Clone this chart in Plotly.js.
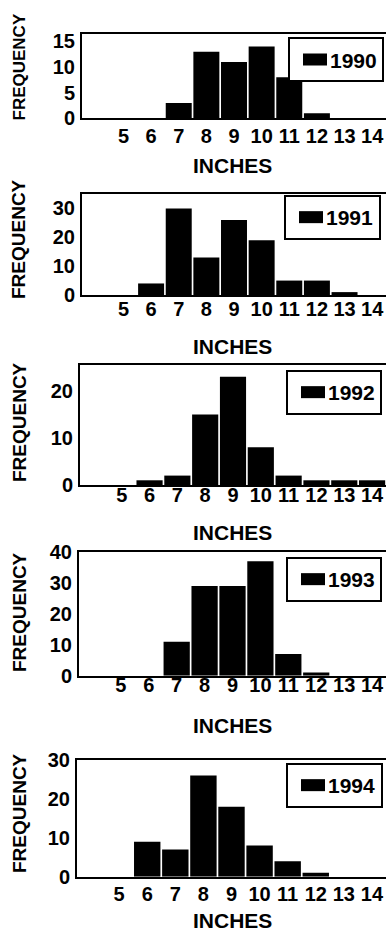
<!DOCTYPE html>
<html><head><meta charset="utf-8">
<script src="https://cdn.plot.ly/plotly-3.0.1.min.js"></script>
<style>html,body{margin:0;padding:0;background:#fff}</style>
</head><body><div id="chart" style="width:386px;height:934px"></div>
<script>
// ---- data ----
const inches = [5, 6, 7, 8, 9, 10, 11, 12, 13, 14];
const years = ['1990', '1991', '1992', '1993', '1994'];
const freq1990 = [0, 0, 3, 13, 11, 14, 8, 1, 0, 0];
const freq1991 = [0, 4, 30, 13, 26, 19, 5, 5, 1, 0];
const freq1992 = [0, 1, 2, 15, 23, 8, 2, 1, 1, 1];
const freq1993 = [0, 0, 11, 29, 29, 37, 7, 1, 0, 0];
const freq1994 = [0, 9, 7, 26, 18, 8, 4, 1, 0, 0];
const xTitle = 'INCHES';
const yTitle = 'FREQUENCY';

const series = [freq1990, freq1991, freq1992, freq1993, freq1994];
const yMax = [16.4, 35, 25.5, 40, 30];
const yStep = [5, 10, 10, 10, 10];

// ---- layout geometry (pixels) ----
const W = 386, H = 934;
const panels = [
  {top: 34.3, bottom: 118.3, left: 82, tickOff: -1,  inchesY: 165,   freqY: 67.5, freqSize: 17, legTop: 37.3, legRight: 384},
  {top: 194,  bottom: 295,   left: 82, tickOff: -5,  inchesY: 346.7, freqY: 239,  freqSize: 19, legTop: 195,  legRight: 381},
  {top: 365,  bottom: 485,   left: 80, tickOff: -9,  inchesY: 532.5, freqY: 422,  freqSize: 19, legTop: 370,  legRight: 382},
  {top: 552,  bottom: 675.7, left: 79, tickOff: -10, inchesY: 725,   freqY: 612,  freqSize: 19, legTop: 557,  legRight: 382},
  {top: 760,  bottom: 876.7, left: 77, tickOff: -2,  inchesY: 920,   freqY: 813,  freqSize: 19, legTop: 763,  legRight: 383}
];
const FAM = '"Liberation Sans", Arial, Helvetica, sans-serif';
const bold = (size) => ({family: FAM, size: size, color: '#000', weight: 'bold'});

const traces = [];
const layout = {
  width: W, height: H,
  margin: {l: 0, r: 0, t: 0, b: 0},
  paper_bgcolor: '#fff', plot_bgcolor: '#fff',
  bargap: 0.06,
  annotations: [],
  font: bold(18)
};

panels.forEach((p, i) => {
  const n = i + 1;
  const xa = n === 1 ? 'x' : 'x' + n;
  const ya = n === 1 ? 'y' : 'y' + n;
  const lg = n === 1 ? 'legend' : 'legend' + n;
  traces.push({
    type: 'bar', x: inches, y: series[i], name: years[i],
    xaxis: xa, yaxis: ya, legend: lg, showlegend: true,
    marker: {color: '#000', line: {width: 0}}
  });
  const xKey = n === 1 ? 'xaxis' : 'xaxis' + n;
  const yKey = n === 1 ? 'yaxis' : 'yaxis' + n;
  layout[xKey] = {
    domain: [p.left / W, 1], range: [3.5, 14.5], anchor: ya,
    tickmode: 'array', tickvals: inches, ticktext: inches.map(String),
    ticks: '', showgrid: false, zeroline: false,
    showline: true, mirror: true, linecolor: '#000', linewidth: 2,
    tickfont: bold(20), ticklabelstandoff: p.tickOff, fixedrange: true
  };
  layout[yKey] = {
    domain: [1 - p.bottom / H, 1 - p.top / H], range: [0, yMax[i]], anchor: xa,
    dtick: yStep[i], tick0: 0, ticks: '', showgrid: false, zeroline: false,
    showline: true, mirror: false, linecolor: '#000', linewidth: 2,
    tickfont: bold(20), ticklabelstandoff: 1, fixedrange: true
  };
  layout[lg] = {
    x: p.legRight / W, xanchor: 'right', y: 1 - p.legTop / H, yanchor: 'top',
    bgcolor: '#fff', bordercolor: '#000', borderwidth: 2,
    font: bold(21), itemclick: false, itemdoubleclick: false,
    tracegroupgap: 0
  };
  layout.annotations.push({
    text: xTitle, xref: 'paper', yref: 'paper', x: 232 / W, y: 1 - p.inchesY / H,
    xanchor: 'center', yanchor: 'middle', showarrow: false, font: bold(21)
  });
  layout.annotations.push({
    text: yTitle, xref: 'paper', yref: 'paper', x: 19 / W, y: 1 - p.freqY / H,
    xanchor: 'center', yanchor: 'middle', textangle: -90, showarrow: false, font: bold(p.freqSize)
  });
});

Plotly.newPlot('chart', traces, layout, {displayModeBar: false, staticPlot: true}).then(() => {
  document.querySelectorAll('.legendpoints path').forEach(el => el.setAttribute('d', 'M17,6H-7V-6H17Z'));
});
</script>
</body></html>
